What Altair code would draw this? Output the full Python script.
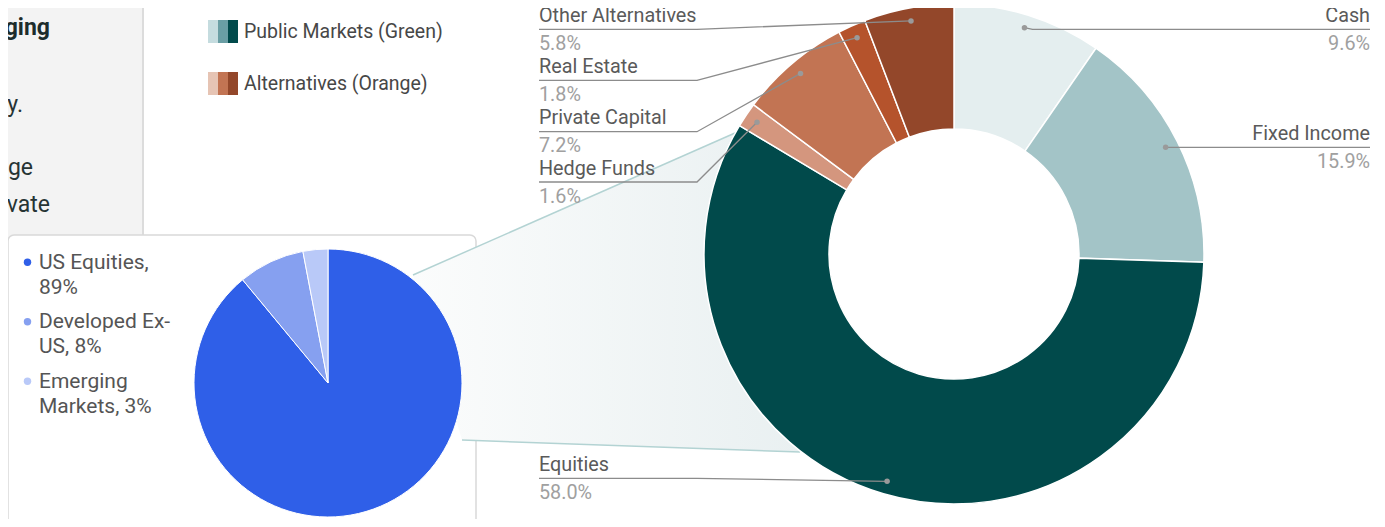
import altair as alt
import pandas as pd
import numpy as np

# ---------------- data ----------------
donut_cats = ["Cash", "Fixed Income", "Equities", "Hedge Funds",
              "Private Capital", "Real Estate", "Other Alternatives"]
donut_vals = [9.6, 15.9, 58.0, 1.6, 7.2, 1.8, 5.8]
donut_cols = ["#e4eeef", "#a3c4c7", "#014a4b", "#d4967e",
              "#c27453", "#b5532c", "#93472a"]

pie_cats = ["US Equities", "Developed Ex-US", "Emerging Markets"]
pie_vals = [89, 8, 3]
pie_cols = ["#2f5fe8", "#86a0f0", "#b9c9f8"]
pie_labels = ["US Equities,\n89%", "Developed Ex-\nUS, 8%", "Emerging\nMarkets, 3%"]

legend_groups = ["Public Markets (Green)", "Alternatives (Orange)"]
legend_swatches = [["#c5dcdf", "#6a9ea4", "#014a4b"],
                   ["#e6c4b4", "#c27453", "#93472a"]]

panel_words = ["et", "ging", "ly.", "ge", "vate"]
panel_bold = [True, True, False, False, False]

# ---------------- layout ----------------
W, H, OFF = 1369, 511, 8
DCX, DCY, R_IN, R_OUT, DOT_R = 954, 254, 125, 250, 237
PCX, PCY, PR = 328, 383, 134

XS = alt.Scale(domain=[OFF, OFF + W], nice=False, zero=False)
YS = alt.Scale(domain=[OFF, OFF + H], nice=False, zero=False, reverse=True)


def X(f):
    return alt.X(f"{f}:Q", scale=XS, axis=None)


def Y(f):
    return alt.Y(f"{f}:Q", scale=YS, axis=None, stack=None)


FONT = "Roboto"

# left gray panel
panel_bg = alt.Chart(pd.DataFrame({"x": [-20], "x2": [143], "y": [-20], "y2": [560]})).mark_rect(
    color="#f3f3f3").encode(x=X("x"), x2="x2", y=Y("y"), y2="y2")
panel_border = alt.Chart(pd.DataFrame({"x": [143], "y": [-20], "y2": [236]})).mark_rule(
    color="#dcdcdc", strokeWidth=2).encode(x=X("x"), y=Y("y"), y2="y2")
panel_x = [23, 50, 23, 33, 50]
panel_y = [5, 35, 112, 175, 212]
ptxt = pd.DataFrame({"t": panel_words, "x": panel_x, "y": panel_y, "b": panel_bold})
panel_text_b = alt.Chart(ptxt[ptxt.b]).mark_text(
    align="right", baseline="alphabetic", font=FONT, fontSize=23, fontWeight="bold", color="#1d2c2c"
).encode(x=X("x"), y=Y("y"), text="t:N")
panel_text_n = alt.Chart(ptxt[~ptxt.b]).mark_text(
    align="right", baseline="alphabetic", font=FONT, fontSize=23, color="#263434"
).encode(x=X("x"), y=Y("y"), text="t:N")

# pie box
box = alt.Chart(pd.DataFrame({"x": [8], "x2": [476], "y": [235], "y2": [560]})).mark_rect(
    fill="white", stroke="#d9d9d9", strokeWidth=1.5, cornerRadius=6
).encode(x=X("x"), x2="x2", y=Y("y"), y2="y2")

# connector band between pie and donut
T0, T1, B0, B1 = (413, 275), (735, 133), (462, 440), (800, 452)
xs = np.array([T0[0], B0[0], T1[0], B1[0]], dtype=float)
top = np.interp(xs, [T0[0], T1[0], B1[0]], [T0[1], T1[1], B1[1]])
bot = np.interp(xs, [T0[0], B0[0], B1[0]], [T0[1], B0[1], B1[1]])
band_df = pd.DataFrame({"x": xs, "top": top, "bot": bot})
band = alt.Chart(band_df).mark_area(
    interpolate="linear",
    color=alt.Gradient(gradient="linear",
                       stops=[alt.GradientStop(color="#fbfcfc", offset=0),
                              alt.GradientStop(color="#e9f0f1", offset=1)],
                       x1=0, x2=1, y1=0, y2=0)
).encode(x=X("x"), y=Y("top"), y2="bot")
conn_df = pd.DataFrame({"g": ["t", "t", "b", "b"], "i": [0, 1, 0, 1],
                        "x": [T0[0], T1[0], B0[0], B1[0]],
                        "y": [T0[1], T1[1], B0[1], B1[1]]})
conn = alt.Chart(conn_df).mark_line(color="#b3d3d3", strokeWidth=1.5).encode(
    x=X("x"), y=Y("y"), detail="g:N", order="i:Q")

# pie
pie_df = pd.DataFrame({"name": pie_cats, "value": pie_vals, "color": pie_cols,
                       "order": range(len(pie_cats))})
pie = alt.Chart(pie_df).mark_arc(outerRadius=PR, stroke="white", strokeWidth=1).encode(
    theta=alt.Theta("value:Q", stack=True),
    order=alt.Order("order:Q"),
    color=alt.Color("color:N", scale=None),
    x=alt.value(PCX - OFF), y=alt.value(PCY - OFF))

# pie legend
pl_base = [268.8, 328.3, 387.8]
pleg_df = pd.DataFrame({"lab": pie_labels, "color": pie_cols,
                        "x": [27.5] * 3, "tx": [39] * 3,
                        "y": pl_base, "dy": [b - 6.5 for b in pl_base]})
pleg_dot = alt.Chart(pleg_df).mark_circle(size=55, opacity=1).encode(
    x=X("x"), y=Y("dy"), color=alt.Color("color:N", scale=None))
pleg_txt = alt.Chart(pleg_df).mark_text(
    align="left", baseline="alphabetic", font=FONT, fontSize=21, color="#555555",
    lineBreak="\n", lineHeight=25).encode(x=X("tx"), y=Y("y"), text="lab:N")

# donut
total = sum(donut_vals)
cum = np.cumsum([0] + donut_vals[:-1])
mid = (cum + np.array(donut_vals) / 2) / total * 2 * np.pi
dot_x = DCX + DOT_R * np.sin(mid)
dot_y = DCY - DOT_R * np.cos(mid)
donut_df = pd.DataFrame({"name": donut_cats, "value": donut_vals, "color": donut_cols,
                         "order": range(len(donut_cats)),
                         "pct": [f"{v:.1f}%" for v in donut_vals],
                         "dx": dot_x, "dy": dot_y})
donut = alt.Chart(donut_df).mark_arc(
    innerRadius=R_IN, outerRadius=R_OUT, stroke="white", strokeWidth=1.5).encode(
    theta=alt.Theta("value:Q", stack=True),
    order=alt.Order("order:Q"),
    color=alt.Color("color:N", scale=None),
    x=alt.value(DCX - OFF), y=alt.value(DCY - OFF))

# label layout (underline y, side)
under_y = {"Cash": 29.3, "Fixed Income": 147.3, "Equities": 478.3, "Hedge Funds": 182.0,
           "Private Capital": 131.7, "Real Estate": 80.3, "Other Alternatives": 29.3}
side = {"Cash": "R", "Fixed Income": "R", "Equities": "L", "Hedge Funds": "L",
        "Private Capital": "L", "Real Estate": "L", "Other Alternatives": "L"}
LX, ELBOW, RX = 539, 697, 1370

line_rows = []
for nm, dxv, dyv in zip(donut_df["name"], donut_df["dx"], donut_df["dy"]):
    uy = under_y[nm]
    if side[nm] == "L":
        pts = [(LX, uy), (ELBOW, uy), (dxv, dyv)]
    else:
        pts = [(dxv, dyv), (dxv + 8, uy), (RX, uy)]
    for i, (px, py) in enumerate(pts):
        line_rows.append({"name": nm, "i": i, "x": px, "y": py})
lines = alt.Chart(pd.DataFrame(line_rows)).mark_line(color="#8c8c8c", strokeWidth=1.3).encode(
    x=X("x"), y=Y("y"), detail="name:N", order="i:Q")
dots = alt.Chart(donut_df).mark_circle(size=30, color="#9a9a9a", opacity=1).encode(
    x=X("dx"), y=Y("dy"))

lab_df = donut_df.copy()
lab_df["uy"] = lab_df["name"].map(under_y)
lab_df["side"] = lab_df["name"].map(side)
lab_df["ny"] = lab_df["uy"] - 7.5
lab_df["py"] = lab_df["uy"] + 20.5
lab_df["lx"] = LX
lab_df["rx"] = RX
L = lab_df[lab_df["side"] == "L"]
R = lab_df[lab_df["side"] == "R"]


def labtext(df, xf, align, field, yf, color):
    return alt.Chart(df).mark_text(
        align=align, baseline="alphabetic", font=FONT, fontSize=19.8, color=color
    ).encode(x=X(xf), y=Y(yf), text=f"{field}:N")


lab_layers = [
    labtext(L, "lx", "left", "name", "ny", "#5a5a5a"),
    labtext(L, "lx", "left", "pct", "py", "#a0a0a0"),
    labtext(R, "rx", "right", "name", "ny", "#5a5a5a"),
    labtext(R, "rx", "right", "pct", "py", "#a0a0a0"),
]

# top legend
sw_rows, lt_rows = [], []
leg_top = [20, 72]
for g, (gname, cols) in enumerate(zip(legend_groups, legend_swatches)):
    for k, c in enumerate(cols):
        sw_rows.append({"x": 208 + 10 * k, "x2": 218 + 10 * k,
                        "y": leg_top[g], "y2": leg_top[g] + 23, "color": c})
    lt_rows.append({"t": gname, "x": 244, "y": leg_top[g] + 11.8})
swatch = alt.Chart(pd.DataFrame(sw_rows)).mark_rect().encode(
    x=X("x"), x2="x2", y=Y("y"), y2="y2", color=alt.Color("color:N", scale=None))
leg_txt = alt.Chart(pd.DataFrame(lt_rows)).mark_text(
    align="left", baseline="middle", font=FONT, fontSize=19.5, color="#474747"
).encode(x=X("x"), y=Y("y"), text="t:N")

chart = alt.layer(
    panel_bg, panel_border, panel_text_b, panel_text_n,
    box, band, conn, pie, pleg_dot, pleg_txt,
    donut, lines, dots, *lab_layers, swatch, leg_txt
).resolve_scale(theta="independent").properties(
    width=W, height=H, autosize=alt.AutoSizeParams(type="none"), padding=0,
    background="white"
).configure_view(stroke=None)

chart.save("out.html", embed_options={"renderer": "svg", "actions": False})
